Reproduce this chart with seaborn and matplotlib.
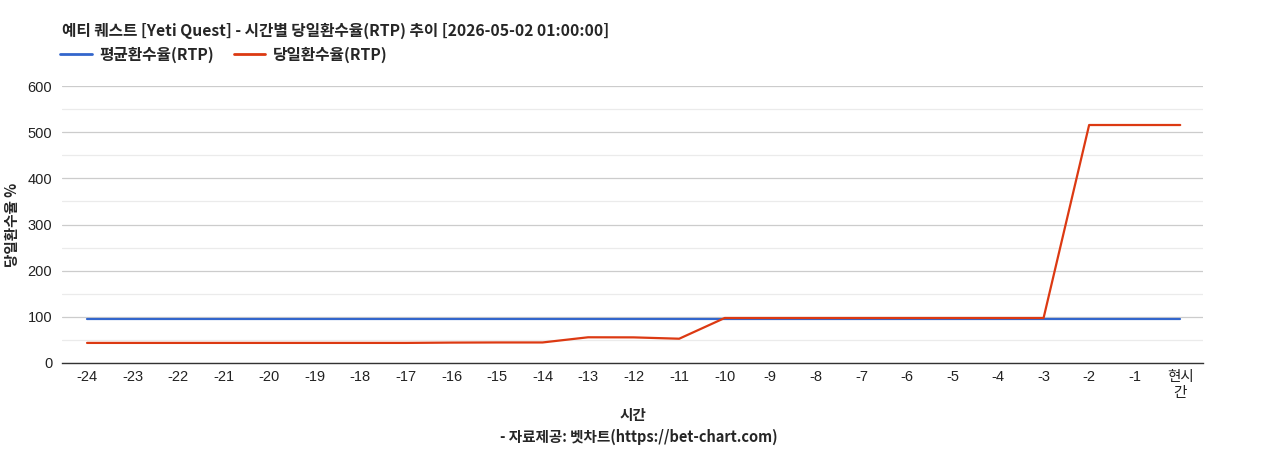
import matplotlib
matplotlib.use("Agg")
import matplotlib.pyplot as plt
import seaborn as sns
import pandas as pd
import numpy as np
from matplotlib.lines import Line2D

hours = ["-24", "-23", "-22", "-21", "-20", "-19", "-18", "-17", "-16", "-15", "-14", "-13",
         "-12", "-11", "-10", "-9", "-8", "-7", "-6", "-5", "-4", "-3", "-2", "-1", "현시\n간"]
avg_rtp = [95.5] * 25
daily_rtp = [43.5, 43.5, 43.5, 43.5, 43.5, 43.5, 43.5, 43.5, 44.2, 44.5, 44.5, 55.7,
             55.5, 52.6, 97.5, 97.5, 97.5, 97.5, 97.5, 97.5, 97.5, 97.5, 515.5, 515.5, 515.5]

series_names = ["평균환수율(RTP)", "당일환수율(RTP)"]
colors = ["#3366cc", "#dc3912"]

sns.set_theme(style="white")
plt.rcParams['font.family'] = ['Liberation Sans', 'Noto Sans CJK KR', 'DejaVu Sans']
cjk = ['Noto Sans CJK KR', 'DejaVu Sans']

df = pd.DataFrame({
    "pos": list(range(len(hours))) * 2,
    "value": avg_rtp + daily_rtp,
    "series": [series_names[0]] * len(hours) + [series_names[1]] * len(hours),
})

fig = plt.figure(figsize=(12.68, 4.5), dpi=100)
ax = fig.add_axes([62 / 1268, 1 - 363 / 450, (1203 - 62) / 1268, (363 - 86) / 450])

sns.lineplot(data=df, x="pos", y="value", hue="series", palette=colors,
             linewidth=1.6, ax=ax, legend=False)

ax.set_ylim(0, 600)
ax.set_xlim(-0.55, 24.5)
ax.set_yticks(np.arange(0, 601, 100))
ax.set_yticks(np.arange(50, 600, 100), minor=True)
ax.set_xticks(range(len(hours)))
ax.set_xticklabels(hours)
ax.tick_params(axis="both", which="both", length=0, labelsize=10.5, colors="#222222")
ax.tick_params(axis="x", pad=5)
ax.tick_params(axis="y", pad=7)
ax.grid(axis="y", which="major", color="#cccccc", linewidth=0.9)
ax.grid(axis="y", which="minor", color="#ebebeb", linewidth=0.9)
ax.grid(axis="x", visible=False)
ax.set_axisbelow(True)
for s in ["left", "right", "top"]:
    ax.spines[s].set_visible(False)
ax.spines["bottom"].set_color("#333333")
ax.spines["bottom"].set_linewidth(1.0)

ax.set_ylabel("당일환수율 %", fontsize=10.5, fontweight="bold", family=cjk)
ax.yaxis.set_label_coords(-(62 - 20) / (1203 - 62), 0.5)
ax.set_xlabel("")

fig.text(633 / 1268, 1 - 415 / 450, "시간", fontsize=10.5, fontweight="bold",
         ha="center", va="center", family=cjk)
fig.text(639 / 1268, 1 - 437 / 450, "- 자료제공: 벳차트(https://bet-chart.com)", fontsize=10.5,
         fontweight="bold", ha="center", va="center", family=cjk)

fig.text(62 / 1268, 1 - 31 / 450, "예티 퀘스트 [Yeti Quest] - 시간별 당일환수율(RTP) 추이 [2026-05-02 01:00:00]",
         fontsize=11.3, fontweight="bold", va="center", ha="left", family=cjk)

handles = [Line2D([0], [0], color=c, linewidth=2) for c in colors]
leg = fig.legend(handles, series_names, loc="center left",
                 bbox_to_anchor=(57 / 1268, 1 - 55 / 450), ncol=2, frameon=False,
                 prop={"weight": "bold", "size": 11.3, "family": cjk}, handlelength=2,
                 handletextpad=0.5, columnspacing=1.25, borderaxespad=0, borderpad=0.2)

fig.savefig("out.png", dpi=100)
